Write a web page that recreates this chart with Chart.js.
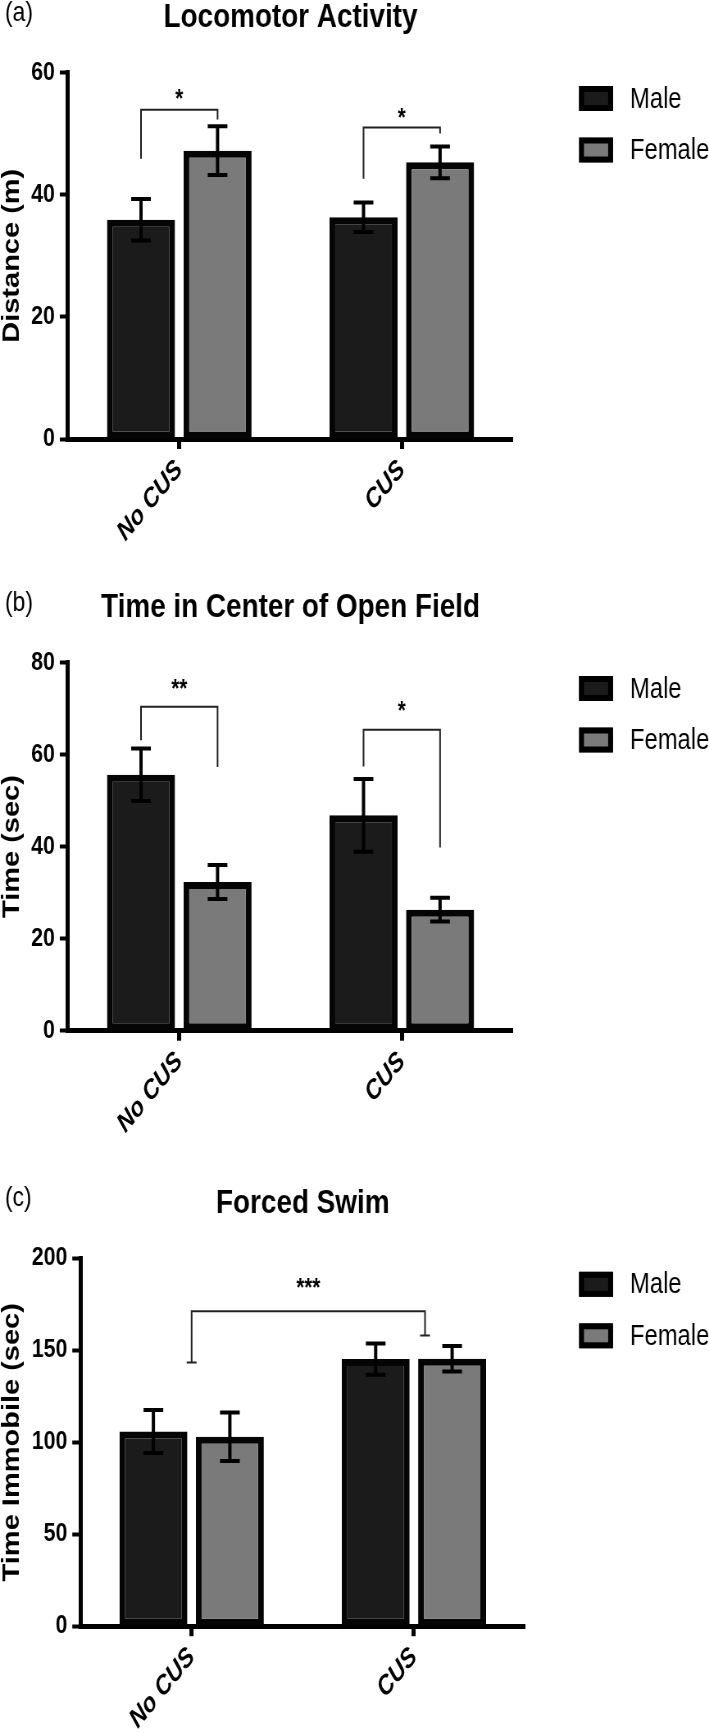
<!DOCTYPE html>
<html>
<head>
<meta charset="utf-8">
<script src="https://cdn.jsdelivr.net/npm/chart.js@4.4.1/dist/chart.umd.min.js"></script>
<style>
  html, body { margin: 0; padding: 0; background: #fff; }
  body { width: 709px; height: 1733px; position: relative; overflow: hidden; }
  /* the original figure is squeezed sideways, so draw wide and scale down */
  .panel { position: absolute; left: 0; transform: scaleX(0.8197); transform-origin: 0 0; }
</style>
</head>
<body>
<div class="panel" style="top:0px"><canvas id="loco" width="865" height="580"></canvas></div>
<div class="panel" style="top:580px"><canvas id="center" width="865" height="590"></canvas></div>
<div class="panel" style="top:1170px"><canvas id="swim" width="865" height="563"></canvas></div>
<script>
// ===== DATA =====
const groups = ['No CUS', 'CUS'];
const sexes = ['Male', 'Female'];

// (a) Locomotor Activity - distance (m)
const locoTicks = [0, 20, 40, 60];
const locoMale = [35.9, 36.3];
const locoMaleSem = [3.4, 2.4];
const locoFemale = [47.2, 45.3];
const locoFemaleSem = [4.0, 2.6];
const locoBracketTop = [53.9, 51.0];
const locoBracketMaleEnd = [45.9, 42.6];
const locoBracketFemaleEnd = [52.3, 50.0];
const locoStars = ['*', '*'];
const locoStarAt = [56.6, 53.6];

// (b) Time in Center of Open Field - time (sec)
const centerTicks = [0, 20, 40, 60, 80];
const centerMale = [55.6, 46.8];
const centerMaleSem = [5.7, 7.9];
const centerFemale = [32.3, 26.3];
const centerFemaleSem = [3.7, 2.6];
const centerBracketTop = [70.4, 65.4];
const centerBracketMaleEnd = [63.1, 57.4];
const centerBracketFemaleEnd = [57.3, 39.8];
const centerStars = ['**', '*'];
const centerStarAt = [75.5, 70.8];

// (c) Forced Swim - time immobile (sec)
const swimTicks = [0, 50, 100, 150, 200];
const swimMale = [105.8, 145.2];
const swimMaleSem = [11.7, 8.5];
const swimFemale = [103.0, 145.4];
const swimFemaleSem = [13.2, 6.9];
const swimBracketTop = [171.2];
const swimBracketLeftEnd = [143.4];
const swimBracketRightEnd = [158.0];
const swimStars = ['***'];
const swimStarAt = [187.3];

// ===== STYLE =====
const W = 865;
const maleFill = '#1b1b1b';
const femaleFill = '#7a7a7a';
const ink = '#000';
const fam = "'Liberation Sans', Arial, Helvetica, sans-serif";
Chart.defaults.font.family = fam;
Chart.defaults.color = ink;

// error bars, significance brackets, titles and legend
const decor = {
  id: 'decor',
  afterDatasetsDraw(chart) {
    const { ctx, scales: { y } } = chart;
    ctx.save();
    ctx.strokeStyle = ink;
    ctx.lineWidth = 4;
    chart.data.datasets.forEach((ds, i) => {
      chart.getDatasetMeta(i).data.forEach((bar, j) => {
        const hi = y.getPixelForValue(ds.data[j] + ds.sem[j]);
        const lo = y.getPixelForValue(ds.data[j] - ds.sem[j]);
        ctx.beginPath();
        ctx.moveTo(bar.x, hi); ctx.lineTo(bar.x, lo);
        ctx.moveTo(bar.x - 12, hi); ctx.lineTo(bar.x + 12, hi);
        ctx.moveTo(bar.x - 12, lo); ctx.lineTo(bar.x + 12, lo);
        ctx.stroke();
      });
    });
    ctx.restore();
  },
  afterDraw(chart, args, o) {
    const { ctx, chartArea: a, scales: { x, y } } = chart;
    ctx.save();

    // brackets
    ctx.strokeStyle = '#222';
    ctx.lineWidth = 2;
    ctx.fillStyle = ink;
    ctx.font = 'bold 25px ' + fam;
    ctx.textAlign = 'center';
    ctx.textBaseline = 'alphabetic';
    o.top.forEach((top, k) => {
      let x1, x2;
      if (o.span) {
        const cw = x.getPixelForValue(1) - x.getPixelForValue(0);
        x1 = x.getPixelForValue(0);
        x2 = x.getPixelForValue(1) + cw * 0.05;
      } else {
        x1 = chart.getDatasetMeta(0).data[k].x;
        x2 = chart.getDatasetMeta(1).data[k].x;
      }
      const yt = y.getPixelForValue(top);
      const y1 = y.getPixelForValue(o.leftEnd[k]);
      const y2 = y.getPixelForValue(o.rightEnd[k]);
      ctx.beginPath();
      ctx.moveTo(x1, y1); ctx.lineTo(x1, yt); ctx.lineTo(x2, yt); ctx.lineTo(x2, y2);
      if (o.span) {
        ctx.moveTo(x1 - 6, y1); ctx.lineTo(x1 + 6, y1);
        ctx.moveTo(x2 - 6, y2); ctx.lineTo(x2 + 6, y2);
      }
      ctx.stroke();
      ctx.fillText(o.stars[k], (x1 + x2) / 2, y.getPixelForValue(o.starAt[k]) + 14);
    });

    // panel title and letter
    ctx.textAlign = 'center';
    ctx.font = 'bold 34px ' + fam;
    ctx.fillText(o.title, (a.left + a.right) / 2, a.top - 45.5);
    ctx.textAlign = 'left';
    ctx.font = '28px ' + fam;
    ctx.fillText(o.letter, 6, a.top - 52);

    // legend
    ctx.font = '29px ' + fam;
    ctx.textBaseline = 'middle';
    chart.data.datasets.forEach((ds, i) => {
      const bx = 706.4, by = a.top + 13.5 + i * 51.5, bw = 41.5, bh = 25;
      ctx.fillStyle = ds.backgroundColor;
      ctx.fillRect(bx, by, bw, bh);
      ctx.strokeStyle = ink;
      ctx.lineWidth = 6;
      ctx.strokeRect(bx + 3, by + 3, bw - 6, bh - 6);
      ctx.fillStyle = ink;
      ctx.fillText(ds.label, 768.6, by + bh / 2 + 1);
    });
    ctx.restore();
  }
};

function panel(id, p) {
  return new Chart(document.getElementById(id), {
    type: 'bar',
    data: {
      labels: groups,
      datasets: [
        { label: sexes[0], data: p.male, sem: p.maleSem, backgroundColor: maleFill },
        { label: sexes[1], data: p.female, sem: p.femaleSem, backgroundColor: femaleFill }
      ]
    },
    options: {
      responsive: false,
      animation: false,
      events: [],
      layout: { padding: { left: 0, right: W - p.right, top: p.top, bottom: 0 } },
      datasets: {
        bar: {
          categoryPercentage: 0.688,
          barPercentage: 0.889,
          borderColor: '#050505',
          borderWidth: 7,
          borderSkipped: false
        }
      },
      plugins: {
        legend: { display: false },
        tooltip: { enabled: false },
        decor: p.decor
      },
      scales: {
        x: {
          ticks: {
            minRotation: 45, maxRotation: 45, padding: 5,
            font: { size: 27, weight: 'bold', style: 'italic' }
          },
          grid: { offset: false, drawOnChartArea: false, tickLength: 10, tickWidth: 5, tickColor: ink },
          border: { width: 5, color: ink },
          afterFit: s => { s.height = p.xHeight; }
        },
        y: {
          min: p.ticks[0],
          max: p.ticks[p.ticks.length - 1],
          afterBuildTicks: s => { s.ticks = p.ticks.map(v => ({ value: v })); },
          ticks: { padding: 6, font: { size: 26, weight: 'bold' } },
          grid: { drawOnChartArea: false, tickLength: 10, tickWidth: 4, tickColor: ink },
          border: { width: 5, color: ink },
          title: { display: true, text: p.yTitle, padding: 0, font: { size: 29, weight: 'bold', lineHeight: 1 } },
          afterFit: s => { s.width = p.left; }
        }
      }
    },
    plugins: [decor]
  });
}

// 1. Locomotor Activity
panel('loco', {
  male: locoMale, maleSem: locoMaleSem, female: locoFemale, femaleSem: locoFemaleSem,
  ticks: locoTicks, yTitle: 'Distance (m)',
  left: 82.96, right: 625.9, top: 72.5, xHeight: 141,
  decor: {
    title: 'Locomotor Activity', letter: '(a)',
    top: locoBracketTop, leftEnd: locoBracketMaleEnd, rightEnd: locoBracketFemaleEnd,
    stars: locoStars, starAt: locoStarAt
  }
});

// 2. Time in Center of Open Field
panel('center', {
  male: centerMale, maleSem: centerMaleSem, female: centerFemale, femaleSem: centerFemaleSem,
  ticks: centerTicks, yTitle: 'Time (sec)',
  left: 82.96, right: 625.9, top: 82.5, xHeight: 139.3,
  decor: {
    title: 'Time in Center of Open Field', letter: '(b)',
    top: centerBracketTop, leftEnd: centerBracketMaleEnd, rightEnd: centerBracketFemaleEnd,
    stars: centerStars, starAt: centerStarAt
  }
});

// 3. Forced Swim
panel('swim', {
  male: swimMale, maleSem: swimMaleSem, female: swimFemale, femaleSem: swimFemaleSem,
  ticks: swimTicks, yTitle: 'Time Immobile (sec)',
  left: 98.2, right: 640.5, top: 88.3, xHeight: 106.8,
  decor: {
    title: 'Forced Swim', letter: '(c)', span: true,
    top: swimBracketTop, leftEnd: swimBracketLeftEnd, rightEnd: swimBracketRightEnd,
    stars: swimStars, starAt: swimStarAt
  }
});
</script>
</body>
</html>
